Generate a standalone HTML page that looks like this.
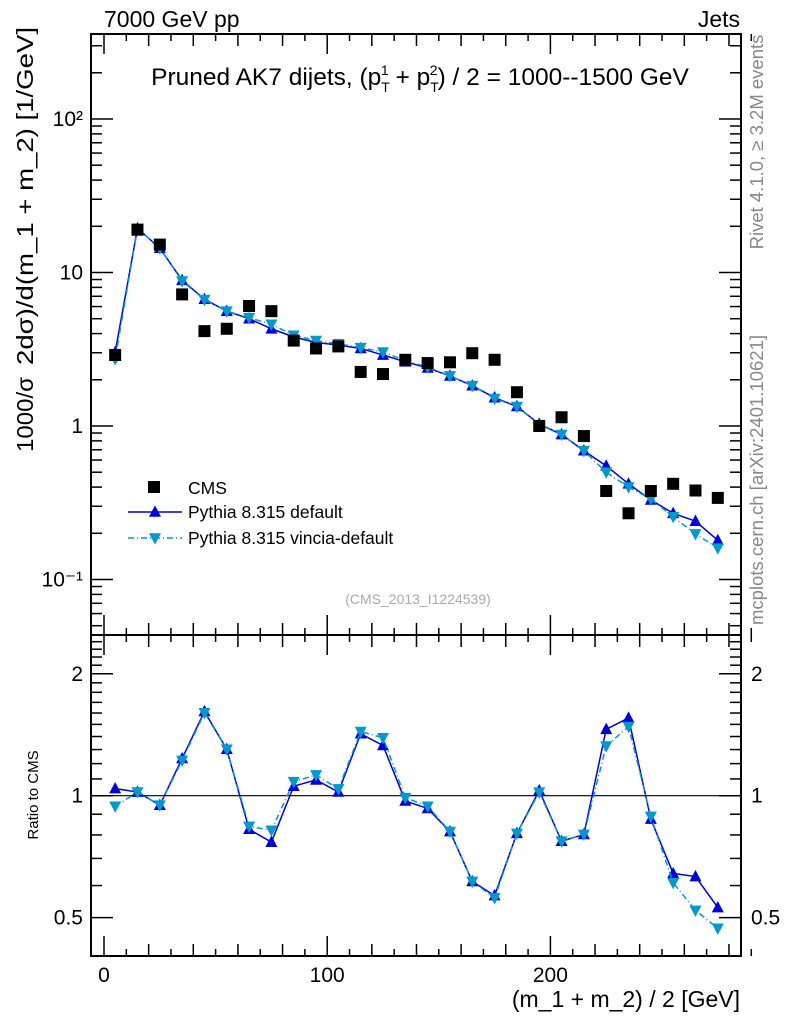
<!DOCTYPE html>
<html><head><meta charset="utf-8">
<style>
body{margin:0;background:#fff;}
svg{display:block;font-family:"Liberation Sans",sans-serif;}
</style></head>
<body>
<svg id="c" width="786" height="1024" viewBox="0 0 786 1024" xmlns="http://www.w3.org/2000/svg">
<text x="104" y="27" font-size="23">7000 GeV pp</text>
<text x="740" y="27" font-size="23" text-anchor="end">Jets</text>
<text x="420" y="85" font-size="24.5" text-anchor="middle">Pruned AK7 dijets, (p<tspan font-size="14" dy="7">T</tspan><tspan font-size="14" dx="-9" dy="-17">1</tspan><tspan dy="10"> + p</tspan><tspan font-size="14" dy="7">T</tspan><tspan font-size="14" dx="-9" dy="-17">2</tspan><tspan dy="10">) / 2 = 1000--1500 GeV</tspan></text>
<g>
<text transform="translate(33,452) rotate(-90)" font-size="23" textLength="75" lengthAdjust="spacingAndGlyphs">1000/σ</text>
<text transform="translate(33,365) rotate(-90)" font-size="23" textLength="338" lengthAdjust="spacingAndGlyphs">2dσ)/d(m_1 + m_2) [1/GeV]</text>
</g>
<text transform="translate(38,795) rotate(-90)" font-size="15" text-anchor="middle">Ratio to CMS</text>
<text x="740" y="1007" font-size="23" text-anchor="end">(m_1 + m_2) / 2 [GeV]</text>
<text transform="translate(763,142) rotate(-90)" font-size="18.5" fill="#888" text-anchor="middle">Rivet 4.1.0, ≥ 3.2M events</text>
<text transform="translate(763,480) rotate(-90)" font-size="18.5" fill="#888" text-anchor="middle">mcplots.cern.ch [arXiv:2401.10621]</text>
<text x="418" y="604" font-size="14" fill="#aaa" text-anchor="middle">(CMS_2013_I1224539)</text>
<g id="g"></g>
</svg>
<script>
const xCenters=[5,15,25,35,45,55,65,75,85,95,105,115,125,135,145,155,165,175,185,195,205,215,225,235,245,255,265,275];
const cmsValues=[2.9,19,15.2,7.2,4.15,4.3,6.05,5.6,3.6,3.2,3.3,2.25,2.18,2.7,2.57,2.6,2.98,2.7,1.66,1.0,1.14,0.86,0.377,0.27,0.377,0.42,0.38,0.34];
const pythiaDefault=[3.02,19.4,14.4,8.9,6.7,5.6,5.0,4.3,3.8,3.5,3.37,3.2,2.9,2.62,2.39,2.12,1.83,1.53,1.34,1.03,0.88,0.69,0.55,0.42,0.33,0.27,0.24,0.18];
const pythiaVincia=[2.73,19.4,14.4,8.8,6.65,5.6,5.08,4.6,3.9,3.6,3.43,3.24,3.03,2.67,2.42,2.12,1.83,1.51,1.34,1.02,0.88,0.69,0.50,0.40,0.335,0.256,0.198,0.16];
const xTicks=[0,100,200];
const yMainTicks=[0.1,1,10,100];
const yMainLabels=["10⁻¹","1","10","10²"];
const yRatioTicks=[0.5,1,2];

const NS="http://www.w3.org/2000/svg";
const g=document.getElementById('g');
const L=91,R=741,T=34,MID=635,B=956;
const X=v=>104+v*2.232;
const Ym=v=>426-Math.log10(v)*153.5;
const Yr=v=>795.7-Math.log10(v)*405;
function el(t,a,p){const e=document.createElementNS(NS,t);for(const k in a)e.setAttribute(k,a[k]);(p||g).appendChild(e);return e;}
function line(x1,y1,x2,y2,w,c){return el('line',{x1,y1,x2,y2,stroke:c||'#000','stroke-width':w||1});}
let f1=el('rect',{x:L,y:T,width:R-L,height:MID-T,fill:'none',stroke:'#000','stroke-width':2});


let f2=el('rect',{x:L,y:MID,width:R-L,height:B-MID,fill:'none',stroke:'#000','stroke-width':2});


for(let v=0;v<=290;v+=10){
  const len=v%100===0?20:(v%20===0?12:7);
  for(const [y0,d] of [[T,1],[MID,-1],[MID,1],[B,-1]]){line(X(v),y0,X(v),y0+d*len,1.5);}
}
xTicks.forEach(v=>{const t=el('text',{x:X(v),y:982,'font-size':21,'text-anchor':'middle'});t.textContent=v;

});
for(let d=-2;d<=2;d++){for(let m=1;m<=9;m++){const v=m*Math.pow(10,d);const y=Ym(v);if(y<T||y>MID)continue;
 const len=m===1?22:11;line(L,y,L+len,y,1.5);line(R,y,R-len,y,1.5);}}
yMainTicks.forEach((v,i)=>{const t=el('text',{x:L-8,y:Ym(v)+7,'font-size':21,'text-anchor':'end'});t.textContent=yMainLabels[i];

});
for(let k=4;k<=25;k++){const v=k/10;const y=Yr(v);if(y<MID||y>B)continue;
 const len=(k===5||k===10||k===20)?22:11;line(L,y,L+len,y,1.5);line(R,y,R-len,y,1.5);}
yRatioTicks.forEach(v=>{for(const [x,a] of [[L-8,'end'],[R+10,'start']]){const t=el('text',{x,y:Yr(v)+7,'font-size':21,'text-anchor':a});t.textContent=v;

}});
let one=line(L,Yr(1),R,Yr(1),1.2);


function tri(x,y,up,c,s){const h=s||6;const p=up?`${x-h},${y+h*0.8} ${x+h},${y+h*0.8} ${x},${y-h*1.1}`:`${x-h},${y-h*0.8} ${x+h},${y-h*0.8} ${x},${y+h*1.1}`;return el('polygon',{points:p,fill:c});}
function series(vals,Yf,color,dash,up,name){
  const pts=vals.map((v,i)=>X(xCenters[i])+','+Yf(v)).join(' ');
  const pl=el('polyline',{points:pts,fill:'none',stroke:color,'stroke-width':1.5});
  if(dash)pl.setAttribute('stroke-dasharray',dash);
  
  
  vals.forEach((v,i)=>{const m=tri(X(xCenters[i]),Yf(v),up,color);
  
  });
}
series(pythiaDefault,Ym,'#0000dd',null,true,'pythia-default');
series(pythiaVincia,Ym,'#0099cc','6,3,1,3',false,'pythia-vincia');
cmsValues.forEach((v,i)=>{const r=el('rect',{x:X(xCenters[i])-6,y:Ym(v)-6,width:12,height:12,fill:'#000'});

});
series(pythiaDefault.map((v,i)=>v/cmsValues[i]),Yr,'#0000dd',null,true,'ratio-default');
series(pythiaVincia.map((v,i)=>v/cmsValues[i]),Yr,'#0099cc','6,3,1,3',false,'ratio-vincia');
const lg=el('g',{});


el('rect',{x:148,y:481,width:12,height:12,fill:'#000'},lg);
let lt=el('text',{x:188,y:494,'font-size':17.5},lg);lt.textContent='CMS';
el('line',{x1:128,y1:512,x2:182,y2:512,stroke:'#0000dd','stroke-width':1.5},lg);
tri(155,512,true,'#0000dd');
lt=el('text',{x:188,y:518,'font-size':17.5},lg);lt.textContent='Pythia 8.315 default';
el('line',{x1:128,y1:538,x2:182,y2:538,stroke:'#0099cc','stroke-width':1.5,'stroke-dasharray':'6,3,1,3'},lg);
tri(155,538,false,'#0099cc');
lt=el('text',{x:188,y:544,'font-size':17.5},lg);lt.textContent='Pythia 8.315 vincia-default';
</script>
</body></html>
